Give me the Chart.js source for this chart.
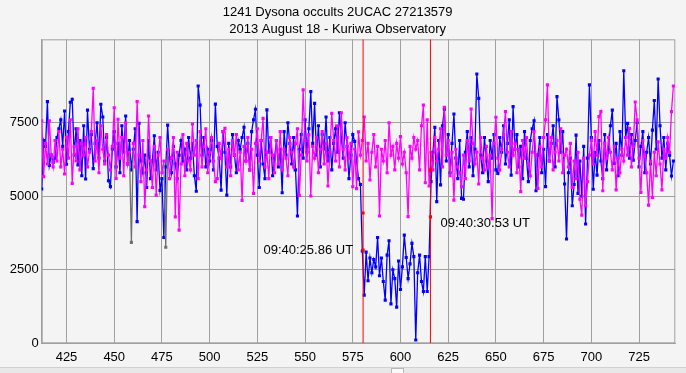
<!DOCTYPE html>
<html>
<head>
<meta charset="utf-8">
<script src="https://cdn.jsdelivr.net/npm/chart.js@4/dist/chart.umd.min.js"></script>
<style>
  html, body { margin: 0; padding: 0; background: #f4f4f4; }
  #wrap { position: relative; width: 686px; height: 373px; }
  #scroll { position: absolute; left: 0; top: 367px; width: 686px; height: 6px; background: #e8e8e8; border-top: 1px solid #d0d0d0; }
  #thumb { position: absolute; left: 391px; top: 0; width: 13px; height: 6px; background: #fafafa; border: 1px solid #b8b8b8; box-sizing: border-box; }
</style>
</head>
<body>
<div id="wrap">
  <canvas id="chart" width="686" height="373"></canvas>
  <div id="scroll"><div id="thumb"></div></div>
</div>
<script>
// frame numbers start here, one value per frame
const firstFrame = 412;

// occulted star (blue)
const targetFlux = [
  5250,6900,6700,8220,6050,6400,6150,6300,7000,7300,
  7600,6700,7900,6090,7200,8200,8300,6400,7300,6070,
  6900,5700,7400,5590,7930,6600,7100,5940,6800,7500,
  6300,8130,7700,6200,7000,5530,5330,6600,7200,6000,
  6800,5800,7400,6500,7730,6100,6900,5900,6600,7300,
  4140,7480,6200,5800,6400,5300,6900,5600,6200,7060,
  5900,6500,5200,5600,3600,6000,7420,6300,5800,6700,
  6100,5600,6400,6900,6200,6600,5900,7000,6300,6800,
  5700,5170,8750,8100,6400,7000,6000,6600,6200,6900,
  5900,8135,6700,6300,5210,7200,6500,5040,6800,6000,
  7100,6400,5800,6900,6600,7000,7350,6200,6800,5900,
  7200,7600,7960,6400,5300,6900,6100,5600,7940,6500,
  7000,5700,6300,6900,6000,6600,5120,7200,6400,7500,
  6800,6100,7000,5900,4330,6600,7100,6300,7600,6500,
  7300,8560,6800,8160,6400,7400,6000,7100,6600,7700,
  6200,7000,5900,6800,7300,6500,7840,7000,6300,7500,
  6700,5600,6400,7100,6870,6200,5600,5400,3140,1640,
  3100,2130,2900,2400,2850,2600,3600,2300,2900,2100,
  1470,3000,3490,1340,2500,2200,1230,2800,1830,2600,
  3680,2920,2200,2700,3400,2950,112,2400,3000,2100,
  1760,2950,1760,2950,5500,6500,7345,4820,6900,5390,
  7400,7960,6200,7100,5800,6800,7800,6300,5600,6900,
  4930,4900,6500,7200,6000,7000,5700,6600,9160,8330,
  6400,5800,7000,6200,5500,6900,6300,7100,5900,5780,
  7000,6500,7400,6100,6800,7600,5720,8050,6600,7100,
  6000,6700,5600,7200,6300,5500,6900,7300,7570,5190,
  6400,7000,5800,6600,5330,7100,6200,6800,7400,6000,
  8390,7600,6500,7200,5420,3550,5800,6300,4680,5400,
  7080,5100,6200,5000,6700,4060,6300,8790,7000,5240,
  6500,5720,6900,6200,5600,7100,5900,6600,7400,7930,
  6120,6800,5700,7200,6400,9270,7000,7480,6300,7100,
  6230,6900,7500,6000,6700,7200,5800,6500,7000,6100,
  7250,8260,6600,8990,7400,6300,7000,5900,6800,6400,
  5690,6200
];

// comparison star (magenta)
const compFlux = [
  7570,5670,6800,6100,7570,6400,6000,6900,6200,7200,
  6000,6600,5760,7000,6300,7600,5440,6700,6200,7300,
  5900,6800,6400,7000,6000,6500,7200,8670,6200,6900,
  5800,7400,6600,6100,7100,6400,5900,6700,8010,5610,
  7620,6300,7000,5700,7500,6100,6500,3434,6800,6000,
  8220,6400,5500,6900,4650,5900,7730,6200,5300,6700,
  5040,6400,7000,5800,6200,3265,6600,5600,6300,7000,
  4300,6500,3850,6100,7100,5700,6800,6200,5900,7460,
  6400,6900,5600,7200,6000,6700,7300,5800,6500,7000,
  6200,5500,5600,6800,6300,7200,7310,6000,6600,5700,
  6900,6400,7100,5900,6500,4860,6700,6200,7000,5900,
  6600,5100,6800,7300,6200,6900,7650,6000,6500,5600,
  7000,6400,5800,6900,6100,7200,5900,6600,6300,5700,
  7000,6500,6000,6800,7300,5030,6400,8620,6900,6200,
  7100,5010,6700,6300,7000,5800,6600,7200,6100,6800,
  5350,6500,7820,6900,6200,7400,6000,7840,6600,5900,
  7000,6300,6800,5330,6600,5260,7190,6400,6900,7700,
  6200,6800,5555,6500,7100,6000,6700,4330,6600,6200,
  6900,5800,7500,6400,6700,5900,6800,6300,7030,6100,
  6500,5800,4310,6700,6300,7000,6600,6900,5900,7400,
  8100,5460,7600,5350,6500,5900,7000,6200,6600,7300,
  6000,8030,6400,6900,5700,6500,4870,6600,6000,5800,
  5330,6400,5600,6900,6200,7970,6800,6100,6500,5420,
  7000,6300,5900,6700,6000,6400,4240,6800,7690,6300,
  5900,6600,7100,7880,6500,6000,7200,6400,6800,5800,
  6600,5160,6900,6300,7000,6100,5700,6500,7200,6400,
  5270,6700,6000,7000,7600,8790,6200,7000,5900,6500,
  6900,6200,7300,5800,6400,6600,6000,6800,5300,6200,
  5600,6500,4900,4360,6300,4680,5500,6400,6900,6100,
  7200,6400,7710,7880,5190,6800,6300,7000,6500,5900,
  6700,5220,6300,5800,6600,6200,7000,6400,7310,6000,
  6700,8210,7600,6300,5130,6900,6400,5800,4700,6200,
  4960,6500,5700,6850,6100,5220,6600,6300,7000,6500,
  7880,8750
];

// frames of the comparison star shown in grey
const greyFrames = [459, 477];

// disappearance / reappearance
const eventFrames = [580.4, 615.7];
const eventLevels = [[4430, 3170], [5900, 4300]];
const eventLabels = ['09:40:25.86 UT', '09:40:30.53 UT'];

const xTicks = [425, 450, 475, 500, 525, 550, 575, 600, 625, 650, 675, 700, 725];
const yTicks = [0, 2500, 5000, 7500];

const titleLines = ['1241 Dysona occults 2UCAC 27213579', '2013 August 18 - Kuriwa Observatory'];

const FONT = 'Liberation Sans, Arial, sans-serif';
const GRID = '#a0a0a0';
const BLUE = '#0000ff';
const MAGENTA = '#ff00ff';
const GREY = '#707070';

const toPoints = arr => arr.map((v, i) => ({ x: firstFrame + i, y: v }));
const greyIdx = greyFrames.map(f => f - firstFrame);

const datasets = [];

// red event lines
eventFrames.forEach(f => {
    datasets.push({
        data: [{ x: f, y: 0 }, { x: f, y: 10340 }],
        borderColor: '#ff0000',
        borderWidth: 1,
        pointRadius: 0,
        order: 0
    });
});

// red event markers
datasets.push({
    type: 'scatter',
    data: eventFrames.flatMap((f, i) => eventLevels[i].map(v => ({ x: f, y: v }))),
    backgroundColor: '#ff0000',
    borderWidth: 0,
    pointStyle: 'rect',
    pointRadius: 2.2,
    order: 0
});

datasets.push({
    data: toPoints(compFlux),
    borderColor: MAGENTA,
    borderWidth: 1.3,
    pointStyle: 'rect',
    pointRadius: 2.2,
    pointBorderWidth: 0,
    pointBackgroundColor: ctx => greyIdx.includes(ctx.dataIndex) ? GREY : MAGENTA,
    segment: {
        borderColor: ctx => greyIdx.includes(ctx.p1DataIndex) || greyIdx.includes(ctx.p0DataIndex) ? GREY : undefined
    },
    order: 1
});

datasets.push({
    data: toPoints(targetFlux),
    borderColor: BLUE,
    borderWidth: 1.3,
    pointStyle: 'rect',
    pointRadius: 2.2,
    pointBorderWidth: 0,
    pointBackgroundColor: BLUE,
    order: 2
});

// frame round the plot + event labels
const decorations = {
    id: 'decorations',
    beforeDatasetsDraw(chart) {
        const a = chart.chartArea;
        const ctx = chart.ctx;
        ctx.save();
        ctx.strokeStyle = GRID;
        ctx.lineWidth = 1;
        ctx.strokeRect(a.left + 0.5, a.top + 0.5, a.right - a.left - 1, a.bottom - a.top - 1);
        ctx.restore();
    },
    afterDatasetsDraw(chart) {
        const xs = chart.scales.x, ys = chart.scales.y;
        const ctx = chart.ctx;
        ctx.save();
        ctx.font = '13px ' + FONT;
        ctx.fillStyle = '#000';
        ctx.textBaseline = 'middle';
        // first label to the left of the lower disappearance marker
        ctx.textAlign = 'right';
        ctx.fillText(eventLabels[0], xs.getPixelForValue(eventFrames[0]) - 10, ys.getPixelForValue(eventLevels[0][1]));
        // second label to the right of the lower reappearance marker
        ctx.textAlign = 'left';
        ctx.fillText(eventLabels[1], xs.getPixelForValue(eventFrames[1]) + 10, ys.getPixelForValue(eventLevels[1][1]) + 7);
        ctx.restore();
    }
};

new Chart(document.getElementById('chart'), {
    type: 'line',
    data: { datasets: datasets },
    plugins: [decorations],
    options: {
        responsive: false,
        animation: false,
        layout: { padding: { left: 0, right: 10.7, top: 0, bottom: 0 } },
        plugins: {
            legend: { display: false },
            tooltip: { enabled: false },
            title: {
                display: true,
                text: titleLines,
                color: '#000',
                font: { family: FONT, size: 13, weight: 'normal', lineHeight: 1.27 },
                padding: { top: 4.5, bottom: 1.8 }
            }
        },
        elements: { line: { tension: 0 } },
        scales: {
            x: {
                type: 'linear',
                min: 412,
                max: 744,
                afterBuildTicks: s => { s.ticks = xTicks.map(v => ({ value: v })); },
                afterFit: s => { s.height = 29.7; },
                grid: { color: GRID, drawTicks: false },
                border: { color: GRID },
                ticks: { color: '#000', padding: 6, font: { family: FONT, size: 13 }, callback: v => String(v) }
            },
            y: {
                min: 0,
                max: 10340,
                afterBuildTicks: s => { s.ticks = yTicks.map(v => ({ value: v })); },
                afterFit: s => { s.width = 41.7; },
                grid: { color: GRID, drawTicks: false },
                border: { color: GRID },
                ticks: { color: '#000', padding: 3, font: { family: FONT, size: 13 }, callback: v => String(v) }
            }
        }
    }
});
</script>
</body>
</html>
